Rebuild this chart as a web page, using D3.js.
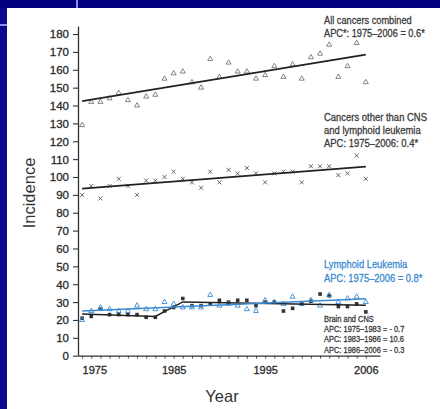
<!DOCTYPE html>
<html>
<head>
<meta charset="utf-8">
<script src="https://cdn.jsdelivr.net/npm/d3@7"></script>
<style>
  body { margin: 0; background: #fff; }
  svg { display: block; }
  .tick text { font-family: "Liberation Sans", Arial, sans-serif; stroke: #2a2a2a; stroke-width: 0.3px; }
  .note { font-family: "Liberation Sans", Arial, sans-serif; stroke-width: 0.3px; }
</style>
</head>
<body>
<script>
// incidence per year, 1975-2006
var years = [1975,1976,1977,1978,1979,1980,1981,1982,1983,1984,1985,1986,1987,1988,1989,1990,
             1991,1992,1993,1994,1995,1996,1997,1998,1999,2000,2001,2002,2003,2004,2005,2006];
var allCancers = [129,142,142,144,147,143,140,145,146,155,158,159,153,150,166,156,
                  164,159,159,155,157,162,156,163,155,167,169,174,156,162,175,153];
var otherCancers = [90,95,88,95,99,95,90,98,98,100,103,99,97,94,103,97,
                    104,102,105,102,97,102,103,103,97,106,106,106,101,102,112,99];
var lymphoid = [20,25,27,26,25,25,28,26,26,30,29,27,27,27,34,28,
                29,28,26,25,31,30,29,33,29,31,28,34,30,32,33,30];
var brainCns = [21,22,26,23,23,23,23,21.5,21.5,25,27,32,28,28,29,31,
                30,31,31,28,30,30,25,26.5,29,30.5,34.5,33.5,27.5,27.5,29,24.5];

// fitted trend lines (joinpoints)
var allTrendYears = [1975,2006], allTrend = [142.5,168.5];
var otherTrendYears = [1975,2006], otherTrend = [93.5,105.8];
var lymphTrendYears = [1975,2006], lymphTrend = [25,31.8];
var brainTrendYears = [1975,1983,1986,2006], brainTrend = [23.3,22,30.1,28.3];

var yTicks = d3.range(0, 190, 10);
var xLabels = [1975,1985,1995,2006];

var W = 440, H = 409;
var blue = "#3a8ad2";

var svg = d3.select("body").append("svg")
  .attr("width", W).attr("height", H);

// slide background
svg.append("rect").attr("width", W).attr("height", H).attr("fill", "#02027f");
svg.append("rect").attr("x", 0).attr("y", 8).attr("width", 7).attr("height", H).attr("fill", "#0a0a8e");
svg.append("rect").attr("x", 7).attr("y", 8).attr("width", W - 7).attr("height", H - 8).attr("fill", "#fff");
svg.append("rect").attr("x", 76).attr("y", 0).attr("width", 2).attr("height", 8).attr("fill", "#8c8cf0");
svg.append("rect").attr("x", 0).attr("y", 24).attr("width", 7).attr("height", 2).attr("fill", "#8c8cf0");

var x = d3.scaleLinear().domain([1974.55, 2007.55]).range([78, 380]);
var y = d3.scaleLinear().domain([0, 184.5]).range([355.7, 26]);

// y axis
var yAxis = svg.append("g")
  .attr("transform", "translate(78,0)")
  .call(d3.axisLeft(y).tickValues(yTicks).tickSize(5).tickPadding(4).tickSizeOuter(0));
yAxis.select(".domain").attr("stroke", "#333").attr("stroke-width", 1.3);
yAxis.selectAll(".tick line").attr("stroke", "#333").attr("stroke-width", 1.1);
yAxis.selectAll(".tick text").attr("font-size", 11.5).attr("fill", "#2a2a2a").attr("dy", "0.34em");

// x axis: minor ticks every year, labels on a few
var xAxis = svg.append("g")
  .attr("transform", "translate(0,355.7)")
  .call(d3.axisBottom(x).tickValues(years).tickSize(3).tickSizeOuter(0).tickFormat(""));
xAxis.select(".domain").attr("stroke", "#333").attr("stroke-width", 1.3);
xAxis.selectAll(".tick line").attr("stroke", "#444").attr("stroke-width", 0.9);

var xLab = svg.append("g")
  .attr("transform", "translate(0,355.7)")
  .call(d3.axisBottom(x).tickValues(xLabels).tickSize(0).tickPadding(11).tickFormat(d3.format("d")));
xLab.select(".domain").remove();
xLab.selectAll(".tick text").attr("font-size", 11).attr("fill", "#2a2a2a")
  .attr("text-anchor", function(d) { return d === 1975 ? "start" : "middle"; });

// axis titles
svg.append("text")
  .attr("transform", "translate(35,193) rotate(-90)")
  .attr("text-anchor", "middle")
  .attr("font-family", "Liberation Sans, Arial, sans-serif")
  .attr("font-size", 16.5).attr("fill", "#333")
  .text("Incidence");
svg.append("text")
  .attr("x", 222).attr("y", 402)
  .attr("text-anchor", "middle")
  .attr("font-family", "Liberation Sans, Arial, sans-serif")
  .attr("font-size", 16.5).attr("fill", "#333")
  .text("Year");

var line = d3.line().x(function(d) { return x(d[0]); }).y(function(d) { return y(d[1]); });
function pairs(xs, vs) { return xs.map(function(v, i) { return [v, vs[i]]; }); }

// markers
var tri = d3.symbol().type(d3.symbolTriangle).size(11);

svg.append("g").selectAll("path")
  .data(pairs(years, allCancers)).enter().append("path")
  .attr("d", tri)
  .attr("transform", function(d) { return "translate(" + x(d[0]) + "," + y(d[1]) + ")"; })
  .attr("fill", "none").attr("stroke", "#666").attr("stroke-width", 0.8);

svg.append("g").selectAll("path")
  .data(pairs(years, otherCancers)).enter().append("path")
  .attr("d", function(d) {
    var cx = x(d[0]), cy = y(d[1]), r = 2;
    return "M" + (cx - r) + "," + (cy - r) + "L" + (cx + r) + "," + (cy + r) +
           "M" + (cx - r) + "," + (cy + r) + "L" + (cx + r) + "," + (cy - r);
  })
  .attr("stroke", "#555").attr("stroke-width", 0.9);

// trend lines
svg.append("path").datum(pairs(allTrendYears, allTrend))
  .attr("d", line).attr("fill", "none").attr("stroke", "#222").attr("stroke-width", 1.7);
svg.append("path").datum(pairs(otherTrendYears, otherTrend))
  .attr("d", line).attr("fill", "none").attr("stroke", "#222").attr("stroke-width", 1.7);

svg.append("g").selectAll("rect")
  .data(pairs(years, brainCns)).enter().append("rect")
  .attr("x", function(d) { return x(d[0]) - 1.8; })
  .attr("y", function(d) { return y(d[1]) - 1.8; })
  .attr("width", 3.6).attr("height", 3.6)
  .attr("fill", "#333");

svg.append("g").selectAll("path")
  .data(pairs(years, lymphoid)).enter().append("path")
  .attr("d", tri)
  .attr("transform", function(d) { return "translate(" + x(d[0]) + "," + y(d[1]) + ")"; })
  .attr("fill", "none").attr("stroke", blue).attr("stroke-width", 0.9);

svg.append("path").datum(pairs(brainTrendYears, brainTrend))
  .attr("d", line).attr("fill", "none").attr("stroke", "#222").attr("stroke-width", 1.5);
svg.append("path").datum(pairs(lymphTrendYears, lymphTrend))
  .attr("d", line).attr("fill", "none").attr("stroke", blue).attr("stroke-width", 1.5);

// annotations, squeezed horizontally to mimic a condensed face
function note(lines, x0, y0, dy, size, color, sx) {
  var t = svg.append("text").attr("class", "note")
    .attr("transform", "translate(" + x0 + "," + y0 + ") scale(" + sx + ",1)")
    .attr("font-size", size).attr("fill", color).attr("stroke", color);
  lines.forEach(function(s, i) {
    t.append("tspan").attr("x", 0).attr("y", i * dy).text(s);
  });
}
note(["All cancers combined", "APC*: 1975\u20132006 = 0.6*"], 324, 24, 13.5, 11, "#3a3a3a", 0.84);
note(["Cancers other than CNS", "and lymphoid leukemia", "APC: 1975\u20132006: 0.4*"], 324, 121, 13, 11, "#3a3a3a", 0.86);
note(["Lymphoid Leukemia", "APC: 1975\u20132006 = 0.8*"], 324, 268, 14, 11, blue, 0.85);
note(["Brain and CNS", "APC: 1975\u20131983 = - 0.7", "APC: 1983\u20131986 = 10.6", "APC: 1986\u20132006 = - 0.3"],
     324, 321.5, 10.5, 9, "#3a3a3a", 0.83);
</script>
</body>
</html>
